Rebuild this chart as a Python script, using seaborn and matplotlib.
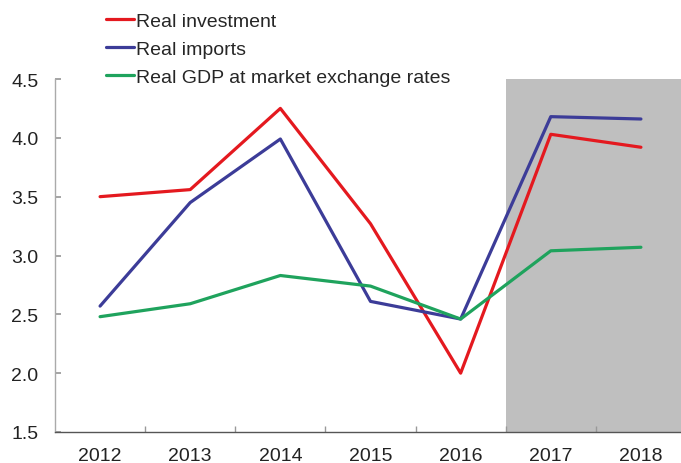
import matplotlib
matplotlib.use("Agg")
import matplotlib.pyplot as plt
import seaborn as sns
import pandas as pd
from matplotlib.ticker import MultipleLocator, FixedLocator, FormatStrFormatter
from matplotlib.lines import Line2D

years = [2012, 2013, 2014, 2015, 2016, 2017, 2018]
real_investment = [3.50, 3.56, 4.25, 3.27, 2.00, 4.03, 3.92]
real_imports = [2.57, 3.45, 3.99, 2.61, 2.46, 4.18, 4.16]
real_gdp = [2.48, 2.59, 2.83, 2.74, 2.46, 3.04, 3.07]
series_names = ["Real investment", "Real imports", "Real GDP at market exchange rates"]
colors = ["#e4191f", "#3c3c98", "#1fa35d"]
forecast_start = 2016.5

df = pd.concat([
    pd.DataFrame({"year": years, "value": vals, "series": name})
    for name, vals in zip(series_names, [real_investment, real_imports, real_gdp])
])

sns.set_theme(style="white")
plt.rcParams["font.family"] = ["Liberation Sans", "DejaVu Sans"]

fig = plt.figure(figsize=(6.81, 4.64), dpi=100)
ax = fig.add_axes([55/681, 31/464, 631/681, 353/464])

ax.axvspan(forecast_start, 2018.5, color="#bfbfbf", lw=0, zorder=0)

sns.lineplot(data=df, x="year", y="value", hue="series", hue_order=series_names,
             palette=colors, linewidth=2.3, ax=ax, legend=False, zorder=3)

ax.set_xlim(2011.5, 2018.5)
ax.set_ylim(1.5, 4.5)
ax.set_xlabel("")
ax.set_ylabel("")
ax.set_xticks(years)
ax.set_xticklabels([str(y) for y in years])
ax.xaxis.set_minor_locator(FixedLocator([y + 0.5 for y in years[:-1]]))
ax.yaxis.set_major_locator(MultipleLocator(0.5))
ax.yaxis.set_major_formatter(FormatStrFormatter("%.1f"))

for s in ["top", "right"]:
    ax.spines[s].set_visible(False)
ax.spines["left"].set_color("#aaaaaa")
ax.spines["bottom"].set_color("#555555")
ax.spines["left"].set_linewidth(1.0)
ax.spines["bottom"].set_linewidth(1.0)

ax.tick_params(axis="x", which="major", length=0, pad=11, labelsize=14, labelcolor="#222222")
ax.tick_params(axis="x", which="minor", length=4, direction="in", color="#999999", bottom=True)
ax.tick_params(axis="y", which="major", length=4, direction="in", color="#999999", left=True,
               pad=12, labelsize=14, labelcolor="#222222")

handles = [Line2D([0], [0], color=c, lw=2.3) for c in colors]
fig.legend(handles, series_names, loc="upper left", bbox_to_anchor=(106/681, 1 - 13/464),
           frameon=False, borderpad=0, borderaxespad=0, handlelength=1.45,
           handletextpad=0.1, labelspacing=0.55, fontsize=14)

fig.savefig("out.png", dpi=100)
